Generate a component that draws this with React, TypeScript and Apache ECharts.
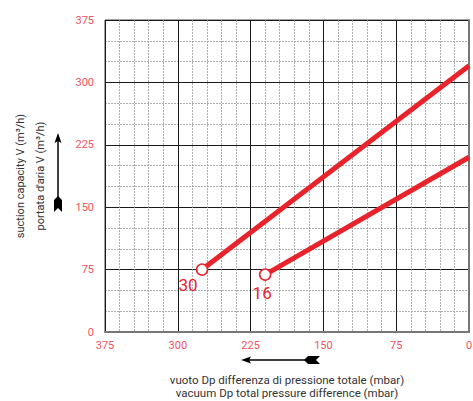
import React, { useEffect, useRef } from "react";
import * as echarts from "echarts";

const xTicks = [0, 75, 150, 225, 300, 375];
const yTicks = [0, 75, 150, 225, 300, 375];
const curve30 = [
  [275, 75],
  [0, 320],
];
const curve16 = [
  [210, 69],
  [0, 210],
];
const curveLabels = ["30", "16"];
const yNameLines = ["suction capacity V (m³/h)", "portata d'aria V (m³/h)"];
const xNameLines = [
  "vuoto Dp differenza di pressione totale (mbar)",
  "vacuum Dp total pressure difference (mbar)",
];

const RED = "#e8232c";
const LABEL_RED = "#f2525e";
const FONT = "Roboto, 'Noto Sans', sans-serif";

function makeSeries(points: number[][], label: string, offset: number[]) {
  return {
    type: "line",
    clip: true,
    lineStyle: { color: RED, width: 5 },
    symbol: "none",
    z: 5,
    data: points.map((p, i) =>
      i === 0
        ? {
            value: p,
            symbol: "circle",
            symbolSize: 11,
            itemStyle: { color: "#fff", borderColor: RED, borderWidth: 1.6 },
            label: {
              show: true,
              formatter: label,
              position: "inside",
              offset,
              color: RED,
              fontSize: 17,
              fontFamily: FONT,
            },
          }
        : { value: p, symbol: "none" }
    ),
  };
}

export default function App() {
  const ref = useRef<HTMLDivElement>(null);
  useEffect(() => {
    if (!ref.current) return;
    const chart = echarts.init(ref.current, null, { renderer: "svg" });
    const minorSplit = {
      show: true,
      lineStyle: { color: "#9a9a9a", type: [2, 1], width: 0.8 },
    };
    chart.setOption({
      animation: false,
      textStyle: { fontFamily: FONT },
      grid: {
        left: 105,
        top: 20,
        right: 4,
        bottom: 69,
        show: true,
        borderColor: "#444",
        borderWidth: 1,
        containLabel: false,
        outerBoundsMode: "none",
      },
      xAxis: {
        type: "value",
        inverse: true,
        min: xTicks[0],
        max: xTicks[xTicks.length - 1],
        interval: 75,
        axisLine: { show: true, lineStyle: { color: "#777", width: 2 } },
        axisTick: { show: false },
        axisLabel: { color: LABEL_RED, fontSize: 11, margin: 8, fontFamily: FONT },
        splitLine: { show: true, lineStyle: { color: "#1a1a1a", width: 1 } },
        minorTick: { show: false, splitNumber: 5 },
        minorSplitLine: minorSplit,
        name: xNameLines.join("\n"),
        nameLocation: "middle",
        nameGap: 41,
        nameTextStyle: { color: "#333", fontSize: 11.5, lineHeight: 13.5, fontFamily: FONT },
      },
      yAxis: {
        type: "value",
        min: yTicks[0],
        max: yTicks[yTicks.length - 1],
        interval: 75,
        axisLine: { show: true, lineStyle: { color: "#777", width: 2 } },
        axisTick: { show: false },
        axisLabel: { color: LABEL_RED, fontSize: 11, margin: 11, fontFamily: FONT },
        splitLine: { show: true, lineStyle: { color: "#1a1a1a", width: 1 } },
        minorTick: { show: false, splitNumber: 3 },
        minorSplitLine: minorSplit,
        name: yNameLines.join("\n"),
        nameLocation: "middle",
        nameRotate: 90,
        nameGap: 55,
        nameTextStyle: { color: "#333", fontSize: 11, lineHeight: 20, fontFamily: FONT },
      },
      graphic: [
        // vertical arrow
        { type: "line", shape: { x1: 58, y1: 140, x2: 58, y2: 206 }, style: { stroke: "#000", lineWidth: 1.5 } },
        { type: "polygon", shape: { points: [[58, 133], [54.5, 143], [58, 141], [61.5, 143]] }, style: { fill: "#000" } },
        { type: "polygon", shape: { points: [[54, 200], [58, 196], [62, 200], [62, 212], [58, 208], [54, 212]] }, style: { fill: "#000" } },
        // horizontal arrow
        { type: "line", shape: { x1: 248, y1: 360, x2: 312, y2: 360 }, style: { stroke: "#000", lineWidth: 1.5 } },
        { type: "polygon", shape: { points: [[241, 360], [251, 356.5], [249, 360], [251, 363.5]] }, style: { fill: "#000" } },
        { type: "polygon", shape: { points: [[308, 356], [304, 360], [308, 364], [320, 364], [316, 360], [320, 356]] }, style: { fill: "#000" } },
      ],
      series: [
        makeSeries(curve30, curveLabels[0], [-14, 15]),
        makeSeries(curve16, curveLabels[1], [-3, 18]),
      ],
    });
    return () => chart.dispose();
  }, []);
  return (
    <div
      ref={ref}
      style={{ position: "fixed", left: 0, top: 0, width: 473, height: 401, background: "#fff" }}
    />
  );
}
